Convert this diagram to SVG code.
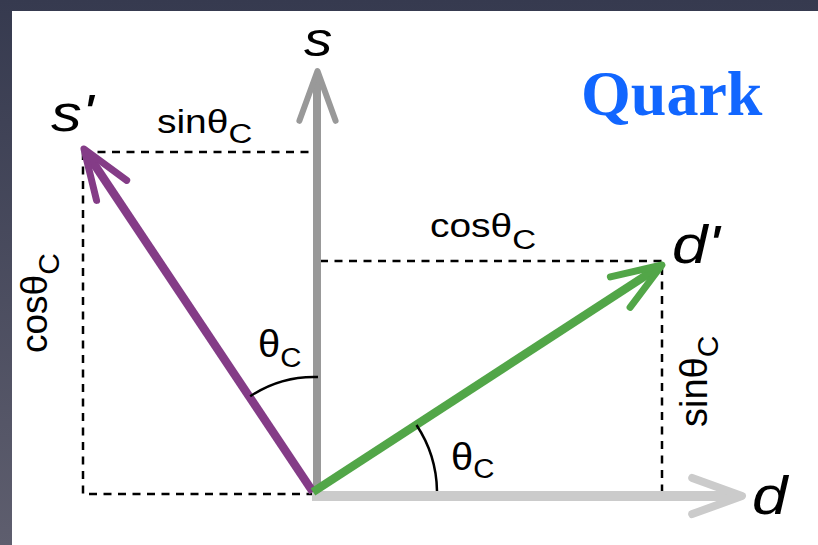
<svg xmlns="http://www.w3.org/2000/svg" xmlns:xlink="http://www.w3.org/1999/xlink" width="818" height="545" viewBox="0 0 818 545">
<defs>
<linearGradient id="bg" x1="0" y1="0" x2="0" y2="1">
<stop offset="0" stop-color="#363a4f"/>
<stop offset="1" stop-color="#5e5e6e"/>
</linearGradient>
<path id="head" d="M -49.8,-18.1 L 0,0 L -49.8,18.1" fill="none" stroke-linecap="round" stroke-linejoin="round"/>
</defs>
<style>
.dash{fill:none;stroke:#000;stroke-width:2.5;stroke-dasharray:8 6.5}
.arc{fill:none;stroke:#000;stroke-width:2.5}
.lbl{font-family:"Liberation Sans",Arial,sans-serif;fill:#000}
.ax{font-family:"Liberation Sans",Arial,sans-serif;font-style:italic;fill:#000}
.sub{font-size:28px}
</style>
<rect x="0" y="0" width="818" height="545" fill="url(#bg)"/>
<rect x="12" y="11" width="806" height="534" fill="#fff"/>

<g id="dashes">
<path class="dash" d="M 83,152 H 312 M 83,152 V 494 H 312"/>
<path class="dash" d="M 320,261 H 662 V 494"/>
</g>

<g id="connectors">
<g id="d-axis" stroke="#cbcbcb">
<line x1="312" y1="496" x2="737" y2="496" stroke-width="10"/>
<use xlink:href="#head" transform="translate(742,496)" stroke-width="8"/>
</g>
<g id="s-axis" stroke="#999999">
<line x1="317" y1="492" x2="317" y2="76" stroke-width="8"/>
<use xlink:href="#head" transform="translate(317.5,71) rotate(-90)" stroke-width="6"/>
</g>
<g id="s-prime-vec" stroke="#843c87">
<line x1="313" y1="492" x2="86.8" y2="153.2" stroke-width="8.5"/>
<use xlink:href="#head" transform="translate(84,149) rotate(-123.7)" stroke-width="7"/>
</g>
<g id="d-prime-vec" stroke="#52a648">
<line x1="313" y1="492" x2="657.8" y2="267.7" stroke-width="8.5"/>
<use xlink:href="#head" transform="translate(662,265) rotate(-33)" stroke-width="7"/>
</g>
<path class="arc" d="M 250.2,396.3 A 115 115 0 0 1 318,377"/>
<path class="arc" d="M 437,491 A 123 123 0 0 0 416.5,425"/>
</g>

<g id="label-s"><text class="ax" font-size="48" transform="translate(304,56) scale(1.18 1)">s</text></g>
<g id="label-sprime"><text class="ax" font-size="52" transform="translate(51,131) scale(1.18 1)">s'</text></g>
<g id="label-dprime"><text class="ax" font-size="54" transform="translate(672,263) scale(1.18 1)">d'</text></g>
<g id="label-d"><text class="ax" font-size="54" transform="translate(752,514) scale(1.18 1)">d</text></g>

<g id="label-sin-top"><text class="lbl" font-size="33" transform="translate(157,133) scale(1.18 1)">sinθ<tspan class="sub" dy="10">C</tspan></text></g>
<g id="label-cos-right"><text class="lbl" font-size="33" transform="translate(430,237) scale(1.18 1)">cosθ<tspan class="sub" dy="12">C</tspan></text></g>
<g id="label-cos-left"><text class="lbl" font-size="37" transform="translate(47,353) rotate(-90)">cosθ<tspan font-size="30" dy="12">C</tspan></text></g>
<g id="label-sin-right"><text class="lbl" font-size="38" transform="translate(707,427) rotate(-90)">sinθ<tspan font-size="30" dy="11">C</tspan></text></g>
<g id="label-theta-s"><text class="lbl" font-size="38" transform="translate(258,357) scale(1.05 1)">θ<tspan class="sub" dy="10">C</tspan></text></g>
<g id="label-theta-d"><text class="lbl" font-size="38" transform="translate(451,470) scale(1.05 1)">θ<tspan class="sub" dy="8">C</tspan></text></g>

<g id="title"><text x="581" y="115" font-family="Liberation Serif,'Times New Roman',serif" font-weight="bold" font-size="64" fill="#1166ff">Quark</text></g>
</svg>
